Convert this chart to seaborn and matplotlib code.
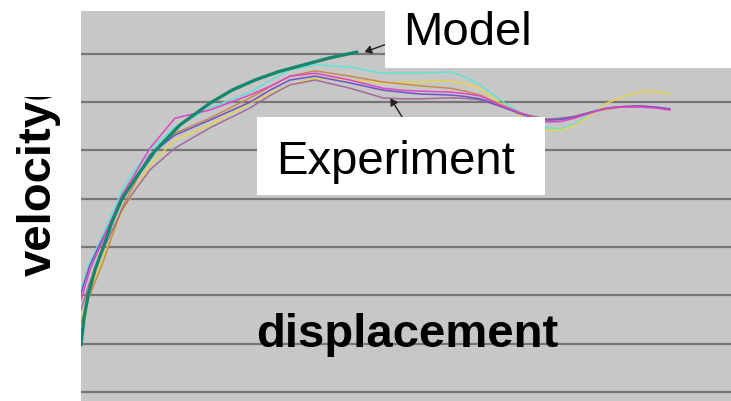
import numpy as np
import pandas as pd
import seaborn as sns
import matplotlib.pyplot as plt
from matplotlib.patches import Rectangle, FancyArrowPatch

# Model curve (displacement, velocity)
disp_model = [0, 3, 7, 14, 22, 31, 41, 56, 74, 99, 129, 151, 174, 197, 222, 249, 276]
vel_model = [0.97, 1.53, 1.99, 2.53, 2.98, 3.52, 4.00, 4.47, 4.99, 5.53, 5.98, 6.25, 6.46, 6.63, 6.77, 6.92, 7.04]

# Experiment runs, sampled on a shared displacement grid
disp_exp = [0, 9, 22, 41, 52, 69, 94, 129, 169, 189, 209, 234, 269, 302, 320, 339,
            369, 384, 399, 419, 439, 452, 466, 480, 494, 510, 526, 542, 559, 574, 589]
vel_cyan = [2.11, 2.69, 3.25, 4.18, 4.55, 5.01, 5.49, 5.88, 6.21, 6.45, 6.67, 6.77, 6.73, 6.60, 6.60, 6.60,
            6.63, 6.52, 6.36, 6.05, 5.78, 5.62, 5.47, 5.45, 5.56, 5.77, 5.98, np.nan, np.nan, np.nan, np.nan]
vel_yellow = [1.49, 2.11, 2.77, 3.73, 4.10, 4.70, 5.22, 5.53, 5.98, 6.18, 6.36, 6.50, 6.46, 6.40, 6.41, 6.42,
              6.44, 6.38, 6.29, 5.98, 5.73, 5.56, 5.42, 5.42, 5.53, 5.74, 5.98, 6.12, 6.21, 6.22, 6.17]
vel_orange = [1.43, 2.01, 2.69, 3.81, 4.25, 4.91, 5.36, 5.67, 6.09, 6.32, 6.54, 6.65, 6.54, 6.42, 6.38, 6.34,
              6.29, 6.23, 6.15, 5.96, 5.78, 5.69, 5.63, 5.65, 5.71, 5.79, 5.86, 5.90, 5.92, 5.90, 5.84]
vel_magenta = [1.90, 2.53, 3.15, 4.08, 4.45, 5.05, 5.67, 5.84, 6.15, 6.33, 6.54, 6.60, 6.46, 6.29, 6.25, 6.23,
               6.21, 6.18, 6.13, 5.94, 5.78, 5.68, 5.59, 5.60, 5.67, 5.78, 5.88, 5.90, 5.90, 5.88, 5.84]
vel_purple = [2.05, 2.63, 3.19, 3.98, 4.35, 4.91, 5.32, 5.63, 6.00, 6.25, 6.46, 6.54, 6.40, 6.25, 6.21, 6.17,
              6.15, 6.12, 6.07, 5.92, 5.76, 5.68, 5.63, 5.64, 5.69, 5.79, 5.88, 5.91, 5.92, 5.90, 5.86]
vel_mauve = [1.70, 2.28, 2.94, 3.77, 4.12, 4.60, 5.05, 5.47, 5.88, 6.14, 6.36, 6.46, 6.29, 6.09, 6.07, 6.07,
             6.09, 6.08, 6.05, 5.92, 5.78, 5.71, 5.65, 5.67, 5.71, 5.80, 5.88, 5.91, 5.92, 5.90, 5.86]

runs = {
    "cyan": vel_cyan,
    "yellow": vel_yellow,
    "orange": vel_orange,
    "mauve": vel_mauve,
    "purple": vel_purple,
    "magenta": vel_magenta,
}
run_colors = {
    "cyan": "#5fe3d6",
    "yellow": "#e8d44a",
    "orange": "#c98a4a",
    "mauve": "#a06c9c",
    "purple": "#6a55c8",
    "magenta": "#e244c8",
}

rows = []
for name, vals in runs.items():
    for d, v in zip(disp_exp, vals):
        rows.append({"displacement": d, "velocity": v, "run": name})
df_exp = pd.DataFrame(rows)
df_model = pd.DataFrame({"displacement": disp_model, "velocity": vel_model})

sns.set_style("white", {"axes.facecolor": "#c7c7c7"})
plt.rcParams["font.family"] = ["Liberation Sans", "DejaVu Sans"]

fig = plt.figure(figsize=(7.31, 4.01), dpi=100)
ax = fig.add_axes([81 / 731, 0, 650 / 731, 390 / 401])

sns.lineplot(data=df_exp, x="displacement", y="velocity", hue="run",
             palette=run_colors, lw=1.1, legend=False, ax=ax,
             estimator=None, sort=False)
sns.lineplot(data=df_model, x="displacement", y="velocity", color="#17876b",
             lw=2.4, ax=ax, estimator=None, sort=False)

ax.set_xlim(0, 650)
ax.set_ylim(-0.19, 7.89)
ax.set_yticks(range(8))
ax.set_xticks([])
ax.yaxis.grid(True, color="#767676", lw=1.6)
ax.set_axisbelow(True)
ax.tick_params(left=False, labelleft=False, bottom=False)
ax.set_xlabel("")
ax.set_ylabel("")
for s in ax.spines.values():
    s.set_visible(False)

W, H = 731, 401
def fx(px):
    return px / W
def fy(py):
    return 1 - py / H

# arrows
fig.add_artist(FancyArrowPatch((fx(395), fy(41)), (fx(362), fy(53)), transform=fig.transFigure,
                               arrowstyle="-|>,head_length=4,head_width=2.5", color="#222222", lw=1, zorder=5))
fig.add_artist(FancyArrowPatch((fx(404), fy(120)), (fx(389), fy(96)), transform=fig.transFigure,
                               arrowstyle="-|>,head_length=4,head_width=2.5", color="#222222", lw=1, zorder=5))

# white label boxes
fig.add_artist(Rectangle((fx(385), fy(68)), fx(346), 68 / H, transform=fig.transFigure,
                         facecolor="white", edgecolor="none", zorder=6))
fig.add_artist(Rectangle((fx(257), fy(195)), fx(288), 78 / H, transform=fig.transFigure,
                         facecolor="white", edgecolor="none", zorder=6))

fig.text(fx(403), fy(45), "Model", fontsize=34, color="black", ha="left", va="baseline", zorder=7)
fig.text(fx(276), fy(174), "Experiment", fontsize=34, color="black", ha="left", va="baseline", zorder=7)
fig.text(fx(256), fy(347), "displacement", fontsize=34, fontweight="bold", color="black",
         ha="left", va="baseline", zorder=7)
fig.text(fx(51), fy(276), "velocity(", fontsize=34, fontweight="bold", color="black", rotation=90,
         rotation_mode="anchor", ha="left", va="baseline", zorder=7)
# the label is cut off at the top in the source
fig.add_artist(Rectangle((0, fy(97)), fx(80), 97 / H, transform=fig.transFigure,
                         facecolor="white", edgecolor="none", zorder=8))

fig.savefig("out.png", dpi=100)
